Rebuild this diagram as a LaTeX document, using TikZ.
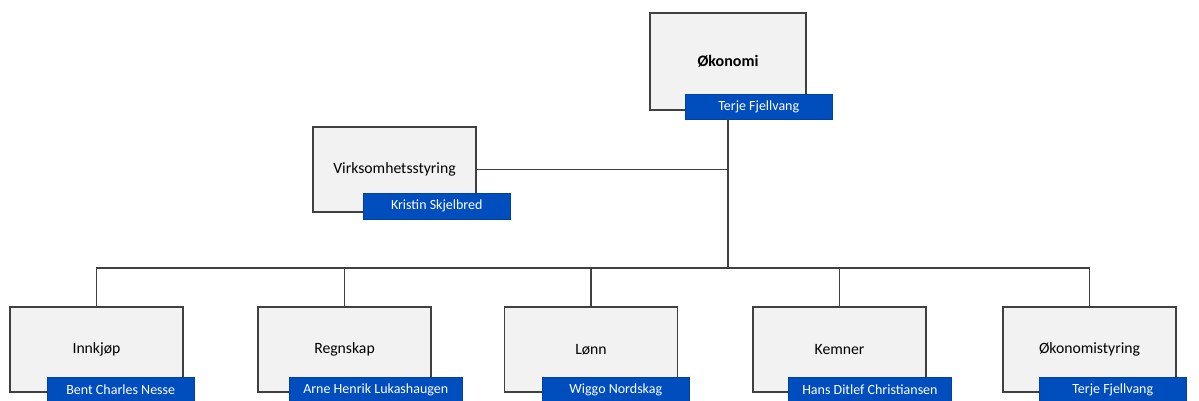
\documentclass[tikz,border=0pt]{standalone}
\usepackage{fontspec}
\setmainfont{Carlito}
\definecolor{boxfill}{HTML}{F2F2F2}
\definecolor{boxline}{HTML}{404040}
\definecolor{namefill}{HTML}{004EBE}
\begin{document}
\begin{tikzpicture}[x=1pt,y=-1pt,
  unit/.style={draw=boxline, line width=1.4pt, fill=boxfill,
    minimum width=173pt, minimum height=85pt, inner sep=0pt,
    font=\fontsize{15.7}{18}\selectfont},
  person/.style={fill=namefill, draw=namefill!85!black, line width=0.5pt,
    anchor=west, minimum width=147pt, minimum height=25pt,
    inner xsep=14pt, inner ysep=0pt, text=white,
    font=\fontsize{14}{16}\selectfont},
  link/.style={draw=boxline, line width=1.3pt}]
\useasboundingbox (0,0) rectangle (1199,400);

% head of the department
\node[unit, minimum width=156pt, minimum height=97pt,
      font=\bfseries\fontsize{16}{19}\selectfont] (oko) at (728,61.5) {Økonomi};
\node[person] (okoP) at (685,106.5) {Terje Fjellvang};

% staff unit
\node[unit, minimum width=163pt] (virk) at (394.5,169.5) {Virksomhetsstyring};
\node[person, minimum height=26pt] (virkP) at (363,206) {Kristin Skjelbred};

% sections
\node[unit] (inn)  at (96.5,349.5)  {Innkjøp};
\node[person] (innP) at (47,389.5) {Bent Charles Nesse};
\node[unit] (reg)  at (344.5,349.5) {Regnskap};
\node[person] (regP) at (289,389.5) {Arne Henrik Lukashaugen};
\node[unit] (lonn) at (591,349.5)   {Lønn};
\node[person] (lonnP) at (542,389.5) {Wiggo Nordskag};
\node[unit] (kem)  at (839.5,349.5) {Kemner};
\node[person] (kemP) at (788,389.5) {Hans Ditlef Christiansen};
\node[unit] (okst) at (1089.5,349.5) {Økonomistyring};
\node[person] (okstP) at (1039,389.5) {Terje Fjellvang};

% reporting lines
\coordinate (bus) at (728,268);
\draw[link] (okoP.south -| oko.center) -- (bus);
\draw[link] (virk.east) -- (virk.east -| bus);
\foreach \n in {inn,reg,lonn,kem,okst}
  \draw[link] (\n.north) |- (bus);
\end{tikzpicture}
\end{document}
